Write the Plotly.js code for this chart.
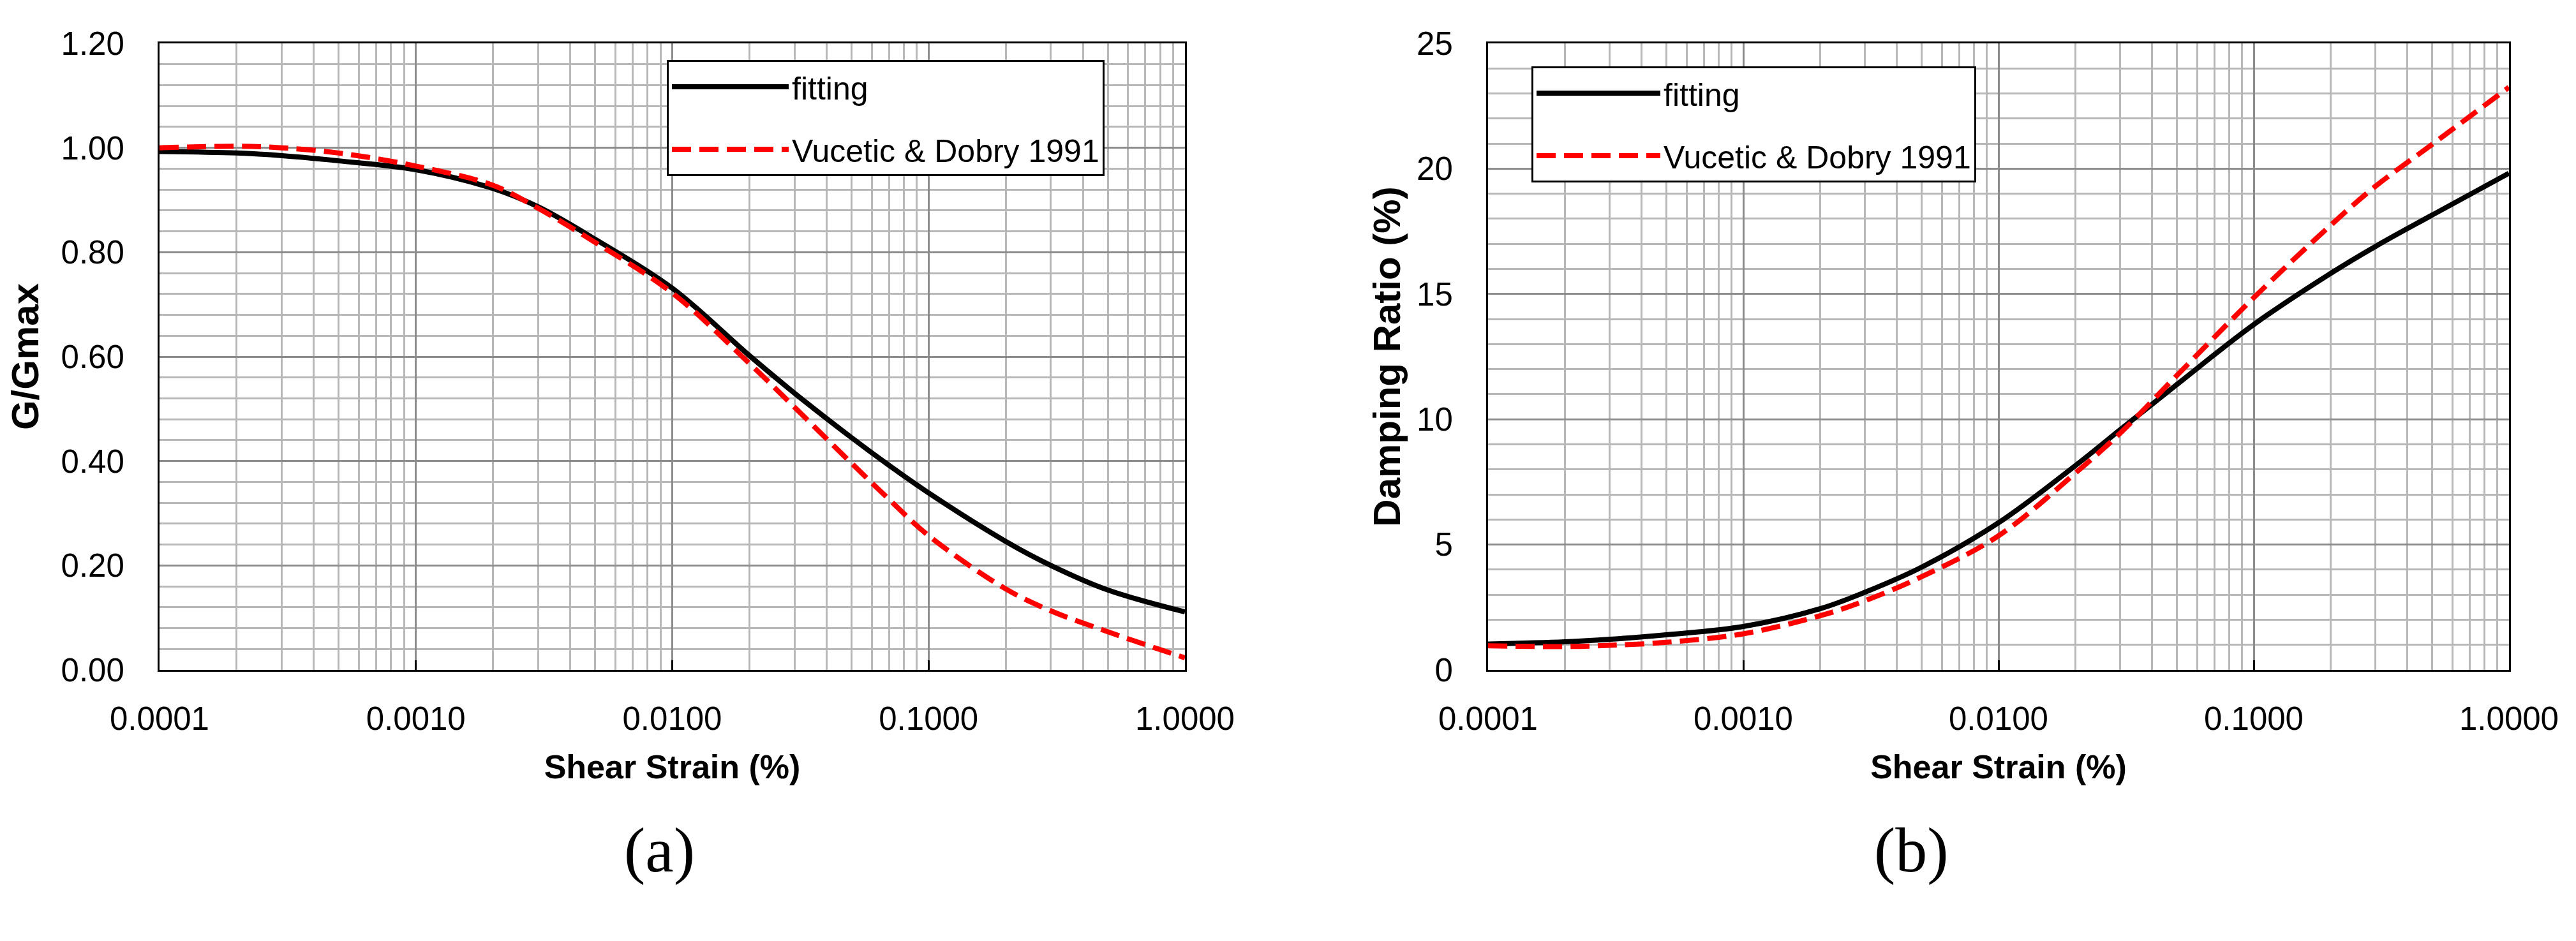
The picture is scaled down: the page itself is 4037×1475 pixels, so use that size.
<!DOCTYPE html>
<html>
<head>
<meta charset="utf-8">
<script src="https://cdn.plot.ly/plotly-3.0.1.min.js"></script>
<style>
  html, body { margin: 0; padding: 0; background: #fff; }
  #chart { width: 4037px; height: 1475px; }
</style>
</head>
<body>
<div id="chart"></div>
<script>
// shear strain (%) sample points
const strainG = [0.0001, 0.0002, 0.0003, 0.0005, 0.001, 0.002, 0.003, 0.005, 0.01, 0.02, 0.03, 0.05, 0.07, 0.1, 0.2, 0.3, 0.5, 1.0];
const fittingG = [0.993, 0.990, 0.985, 0.975, 0.958, 0.922, 0.887, 0.825, 0.731, 0.602, 0.530, 0.445, 0.392, 0.339, 0.246, 0.200, 0.153, 0.111];
const vuceticG = [1.000, 1.003, 1.000, 0.990, 0.965, 0.928, 0.884, 0.819, 0.722, 0.587, 0.503, 0.396, 0.327, 0.257, 0.155, 0.113, 0.073, 0.023];

const strainD = [0.0001, 0.0002, 0.0003, 0.0005, 0.001, 0.002, 0.003, 0.005, 0.01, 0.02, 0.03, 0.05, 0.1, 0.2, 0.3, 0.5, 1.0];
const fittingD = [1.03, 1.12, 1.22, 1.40, 1.73, 2.44, 3.10, 4.10, 5.87, 8.15, 9.59, 11.39, 13.78, 15.82, 16.90, 18.15, 19.82];
const vuceticD = [0.96, 0.93, 0.98, 1.10, 1.44, 2.16, 2.76, 3.72, 5.35, 7.85, 9.45, 11.75, 14.85, 17.74, 19.30, 20.97, 23.25];

const xTickVals = [0.0001, 0.001, 0.01, 0.1, 1];
const xTickText = ['0.0001', '0.0010', '0.0100', '0.1000', '1.0000'];
const seriesNames = ['fitting', 'Vucetic & Dobry 1991'];
const panelLabels = ['(a)', '(b)'];

const W = 4037, H = 1475;
const font = 'Liberation Sans, Arial, sans-serif';
const serif = 'Liberation Serif, Times New Roman, serif';
const majorGrid = '#8c8c8c';
const minorGrid = '#b8b8b8';

const solidLine = { color: '#000000', width: 8, shape: 'spline', smoothing: 1 };
const dashLine = { color: '#ff0000', width: 8, dash: '30px,13px', shape: 'spline', smoothing: 1 };

const data = [
  { x: strainG, y: fittingG, name: seriesNames[0], mode: 'lines', line: solidLine,
    xaxis: 'x', yaxis: 'y', legend: 'legend', legendgroup: 'a1' },
  { x: strainG, y: vuceticG, name: seriesNames[1], mode: 'lines', line: dashLine,
    xaxis: 'x', yaxis: 'y', legend: 'legend', legendgroup: 'a2' },
  { x: strainD, y: fittingD, name: seriesNames[0], mode: 'lines', line: solidLine,
    xaxis: 'x2', yaxis: 'y2', legend: 'legend2', legendgroup: 'b1' },
  { x: strainD, y: vuceticD, name: seriesNames[1], mode: 'lines', line: dashLine,
    xaxis: 'x2', yaxis: 'y2', legend: 'legend2', legendgroup: 'b2' },
];

const yDomain = [1 - 1050 / H, 1 - 68 / H];

function xAxis(domain, anchor) {
  return {
    type: 'log',
    domain: domain,
    anchor: anchor,
    range: [-4, 0],
    tickvals: xTickVals,
    ticktext: xTickText,
    ticks: 'inside',
    ticklen: 15,
    tickwidth: 3,
    tickcolor: '#000',
    ticklabelstandoff: 30,
    tickfont: { family: font, size: 51, color: '#000' },
    showline: true,
    linewidth: 3,
    linecolor: '#000',
    mirror: true,
    showgrid: true,
    gridcolor: majorGrid,
    gridwidth: 3,
    minor: { dtick: 'D1', showgrid: true, gridcolor: minorGrid, gridwidth: 3 },
    zeroline: false,
    title: { text: 'Shear Strain (%)', font: { family: font, size: 52, color: '#000', weight: 'bold' }, standoff: 30 },
    fixedrange: true,
  };
}

function yAxis(anchor, range, dtick, minorDtick, fmt, title, standoff) {
  return {
    domain: yDomain,
    anchor: anchor,
    range: range,
    dtick: dtick,
    tick0: 0,
    tickformat: fmt,
    ticks: '',
    ticklabelstandoff: 42,
    tickfont: { family: font, size: 51, color: '#000' },
    showline: true,
    linewidth: 3,
    linecolor: '#000',
    mirror: true,
    showgrid: true,
    gridcolor: majorGrid,
    gridwidth: 3,
    minor: { dtick: minorDtick, tick0: 0, showgrid: true, gridcolor: minorGrid, gridwidth: 3 },
    zeroline: false,
    title: { text: title, font: { family: font, size: 60, color: '#000', weight: 'bold' }, standoff: standoff },
    fixedrange: true,
  };
}

// right-hand axes only carry the inward tick marks seen on the right border
function rightTicks(overlay, anchor, range, dtick) {
  return {
    overlaying: overlay,
    anchor: anchor,
    side: 'right',
    range: range,
    dtick: dtick,
    tick0: 0,
    ticks: 'inside',
    ticklen: 15,
    tickwidth: 3,
    tickcolor: '#000',
    showticklabels: false,
    showgrid: false,
    showline: false,
    zeroline: false,
    fixedrange: true,
  };
}

function legendAt(x, y, itemwidth, entrywidth) {
  return {
    x: x,
    y: y,
    xanchor: 'left',
    yanchor: 'top',
    xref: 'paper',
    yref: 'paper',
    bgcolor: '#ffffff',
    bordercolor: '#000000',
    borderwidth: 3,
    font: { family: font, size: 50, color: '#000' },
    itemwidth: itemwidth,
    entrywidth: entrywidth,
    entrywidthmode: 'pixels',
    traceorder: 'grouped',
    tracegroupgap: 30,
  };
}

const layout = {
  width: W,
  height: H,
  margin: { l: 0, r: 0, t: 0, b: 0 },
  paper_bgcolor: '#ffffff',
  plot_bgcolor: '#ffffff',
  showlegend: true,
  xaxis: xAxis([250 / W, 1857 / W], 'y'),
  yaxis: yAxis('x', [0, 1.2], 0.2, 0.04, '.2f', 'G/Gmax', 16),
  xaxis2: xAxis([2332 / W, 3932 / W], 'y2'),
  yaxis2: yAxis('x2', [0, 25], 5, 1, 'd', 'Damping Ratio (%)', 7),
  yaxis3: rightTicks('y', 'x', [0, 1.2], 0.2),
  yaxis4: rightTicks('y2', 'x2', [0, 25], 5),
  legend: legendAt(1045 / W, 1 - 94 / H, 183, 575),
  legend2: legendAt(2400 / W, 1 - 104 / H, 194, 598),
  annotations: [
    { text: panelLabels[0], x: 976 / W, y: 1 - 1390 / H, xref: 'paper', yref: 'paper',
      showarrow: false, font: { family: serif, size: 100, color: '#000' } },
    { text: panelLabels[1], x: 3056 / W, y: 1 - 1390 / H, xref: 'paper', yref: 'paper',
      showarrow: false, font: { family: serif, size: 100, color: '#000' } },
  ],
};

Plotly.newPlot('chart', data, layout, { displayModeBar: false, staticPlot: true });
</script>
</body>
</html>
